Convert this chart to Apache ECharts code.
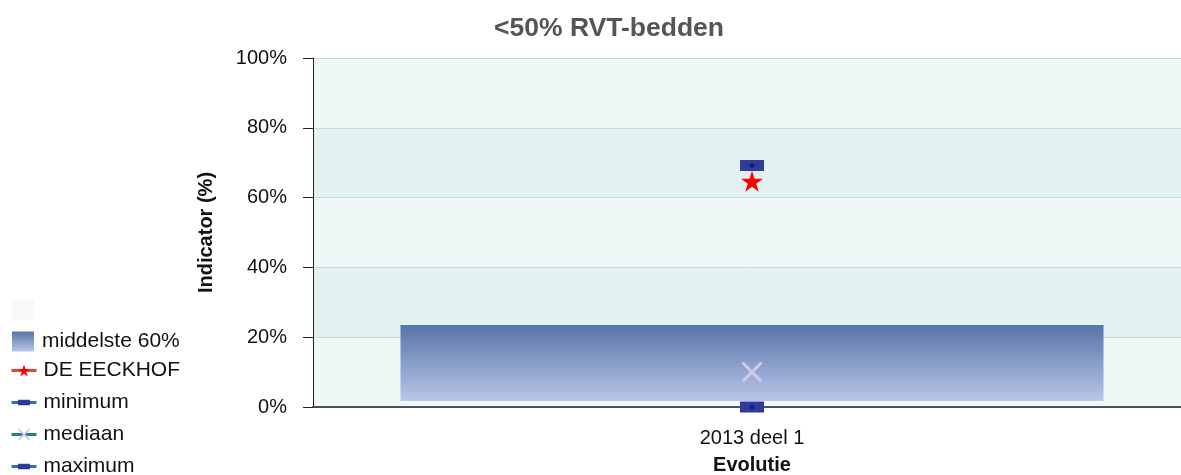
<!DOCTYPE html>
<html>
<head>
<meta charset="utf-8">
<script src="https://cdn.jsdelivr.net/npm/echarts@6/dist/echarts.min.js"></script>
<style>
  html, body { margin: 0; padding: 0; background: #fff; }
  #chart { width: 1181px; height: 475px; }
</style>
</head>
<body>
<div id="chart"></div>
<script>
// data
var categories = ["2013 deel 1"];
var boxLow = [1.7];      // onderkant middelste 60%
var boxHigh = [23.5];    // bovenkant middelste 60%
var eeckhof = [64.7];
var minimum = [0];
var mediaan = [10];
var maximum = [69.2];
var yTicks = [0, 20, 40, 60, 80, 100];

var starPath = "path://M50,0L61.2,34.6L97.6,34.5L68.1,55.9L79.4,90.5L50,69L20.6,90.5L31.9,55.9L2.4,34.5L38.8,34.6Z";
var crossPath = "path://M2,0L10,8L18,0L20,2L12,10L20,18L18,20L10,12L2,20L0,18L8,10L0,2Z";
// flat bar in a square box (tiny corner specks keep the box square, also in the legend)
var flatRect = "path://M0,0L0.01,0L0,0.01Z M24,24L23.99,24L24,23.99Z M0,6.5L24,6.5L24,17.5L0,17.5Z";

var boxSize = boxHigh.map(function (v, i) { return +(v - boxLow[i]).toFixed(2); });

var chart = echarts.init(document.getElementById("chart"));
chart.setOption({
  animation: false,
  textStyle: { fontFamily: "Liberation Sans, Arial, sans-serif" },
  title: {
    text: "<50% RVT-bedden",
    left: 604,
    top: 10,
    textAlign: "center",
    textStyle: { fontSize: 26.5, fontWeight: "bold", color: "#555" }
  },
  legend: [
    {
      orient: "vertical",
      left: 12,
      top: 299,
      padding: 0,
      height: 70,
      itemWidth: 22,
      itemHeight: 20,
      itemGap: 11,
      selectedMode: false,
      textStyle: { fontSize: 21, color: "#111", lineHeight: 21, padding: [0, 0, 0, 3] },
      data: [
        { name: " ", icon: "rect", itemStyle: { color: "#f8f8f8" } },
        { name: "middelste 60%", icon: "rect" }
      ]
    },
    {
      orient: "vertical",
      left: 10,
      top: 360,
      padding: 0,
      height: 130,
      itemWidth: 25,
      itemHeight: 15,
      itemGap: 11,
      selectedMode: false,
      lineStyle: { width: 3 },
      textStyle: { fontSize: 21, color: "#111", lineHeight: 21, padding: [0, 0, 0, 2] },
      data: ["DE EECKHOF", "minimum", "mediaan", "maximum"]
    }
  ],
  grid: { left: 313, top: 58, width: 878, height: 349, outerBoundsMode: "none" },
  xAxis: {
    type: "category",
    data: categories,
    name: "Evolutie",
    nameLocation: "middle",
    nameGap: 48,
    nameTextStyle: { fontSize: 20, fontWeight: "bold", color: "#111" },
    axisLine: { lineStyle: { color: "#222", width: 1.5 } },
    axisTick: { alignWithLabel: true, length: 12, lineStyle: { color: "#222", width: 1.5 } },
    axisLabel: { fontSize: 20, color: "#111", margin: 21 },
    splitLine: { show: false }
  },
  yAxis: {
    type: "value",
    min: yTicks[0],
    max: yTicks[yTicks.length - 1],
    interval: 20,
    name: "Indicator (%)",
    nameLocation: "middle",
    nameGap: 97,
    nameTextStyle: { fontSize: 20, fontWeight: "bold", color: "#111" },
    axisLine: { show: true, lineStyle: { color: "#222" } },
    axisTick: { show: true, length: 10, lineStyle: { color: "#222" } },
    axisLabel: { fontSize: 20, color: "#111", margin: 26, formatter: "{value}%" },
    splitLine: { lineStyle: { color: "#cfd6d6" } },
    splitArea: { show: true, areaStyle: { color: ["#f0f8f7", "#e2f2f1"] } }
  },
  series: [
    {
      name: " ",
      type: "bar",
      stack: "box",
      barWidth: 703,
      data: boxLow,
      itemStyle: { color: "rgba(0,0,0,0)" }
    },
    {
      name: "middelste 60%",
      type: "bar",
      stack: "box",
      barWidth: 703,
      data: boxSize,
      itemStyle: {
        color: new echarts.graphic.LinearGradient(0, 0, 0, 1, [
          { offset: 0, color: "#5874a9" },
          { offset: 1, color: "#b9c6e8" }
        ])
      }
    },
    {
      name: "DE EECKHOF",
      type: "line",
      data: eeckhof,
      z: 5,
      symbol: starPath,
      symbolSize: 22,
      symbolKeepAspect: true,
      itemStyle: { color: "#ff0000" },
      lineStyle: { color: "#e2462c", width: 3 }
    },
    {
      name: "minimum",
      type: "line",
      data: minimum,
      clip: false,
      z: 6,
      symbol: flatRect,
      symbolSize: 24,
      itemStyle: { color: "#34399c" },
      lineStyle: { color: "#3b6cb5", width: 3 }
    },
    {
      name: "mediaan",
      type: "line",
      data: mediaan,
      z: 5,
      symbol: crossPath,
      symbolSize: 21,
      itemStyle: { color: "#c9cde8" },
      lineStyle: { color: "#2f7f86", width: 3 }
    },
    {
      name: "maximum",
      type: "line",
      data: maximum,
      z: 5,
      symbol: flatRect,
      symbolSize: 24,
      itemStyle: { color: "#34399c" },
      lineStyle: { color: "#3b6cb5", width: 3 }
    },
    {
      name: "dots",
      type: "scatter",
      data: [minimum[0], maximum[0]],
      clip: false,
      z: 7,
      symbolSize: 5,
      itemStyle: { color: "#0b1c7a" },
      silent: true
    }
  ]
});
</script>
</body>
</html>
